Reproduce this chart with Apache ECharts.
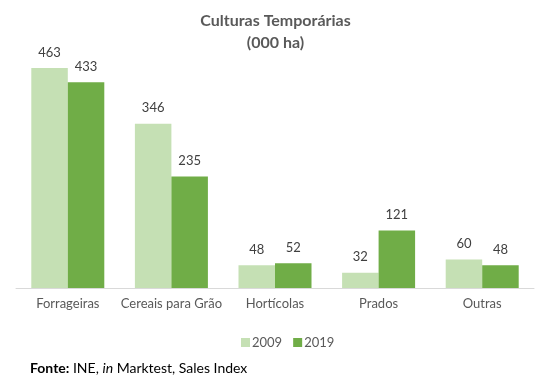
<!DOCTYPE html>
<html><head><meta charset="utf-8">
<script src="https://cdn.jsdelivr.net/npm/echarts@6/dist/echarts.min.js"></script>
<style>html,body{margin:0;padding:0;background:#fff}#c{width:551px;height:387px}</style>
</head><body><div id="c"></div>
<script>
const categories = ["Forrageiras", "Cereais para Grão", "Hortícolas", "Prados", "Outras"];
const values2009 = [463, 346, 48, 32, 60];
const values2019 = [433, 235, 52, 121, 48];
const seriesNames = ["2009", "2019"];

const chart = echarts.init(document.getElementById('c'), null, {renderer: 'canvas'});
const font = 'Lato, "Open Sans", sans-serif';
chart.setOption({
  animation: false,
  textStyle: {fontFamily: font},
  title: {
    text: 'Culturas Temporárias\n(000 ha)',
    left: 'center', top: 5,
    textStyle: {fontFamily: font, fontSize: 16, fontWeight: 'bold', color: '#595959', lineHeight: 22}
  },
  legend: {
    data: seriesNames, top: 331, left: 236,
    itemWidth: 9, itemHeight: 9, itemGap: 11,
    textStyle: {fontFamily: font, fontSize: 13, color: '#595959', padding: [0, 0, 0, -3]},
    icon: 'rect'
  },
  graphic: [{
    type: 'text', left: 30, top: 361,
    style: {
      text: '{b|Fonte:} INE, {i|in} Marktest, Sales Index',
      fontFamily: font, fontSize: 14, fill: '#000',
      rich: {b: {fontWeight: 'bold', fontFamily: font, fontSize: 14}, i: {fontStyle: 'italic', fontFamily: font, fontSize: 14}}
    }
  }],
  grid: {left: 16, right: 17, top: 50.5, bottom: 99},
  xAxis: {
    type: 'category', data: categories,
    axisLine: {lineStyle: {color: '#D9D9D9', width: 1}},
    axisTick: {show: false},
    axisLabel: {interval: 0, fontFamily: font, fontSize: 13, color: '#595959', margin: 9}
  },
  yAxis: {type: 'value', min: 0, max: 500, show: false, splitLine: {show: false}},
  series: [
    {name: seriesNames[0], type: 'bar', data: values2009, barWidth: 36.5, barGap: '0%',
     itemStyle: {color: '#C5E0B4'},
     label: {show: true, position: 'top', distance: 9, fontFamily: font, fontSize: 13, color: '#404040'}},
    {name: seriesNames[1], type: 'bar', data: values2019, barWidth: 36.5, barGap: '0%',
     itemStyle: {color: '#70AD47'},
     label: {show: true, position: 'top', distance: 9, fontFamily: font, fontSize: 13, color: '#404040'}}
  ]
});
</script></body></html>
